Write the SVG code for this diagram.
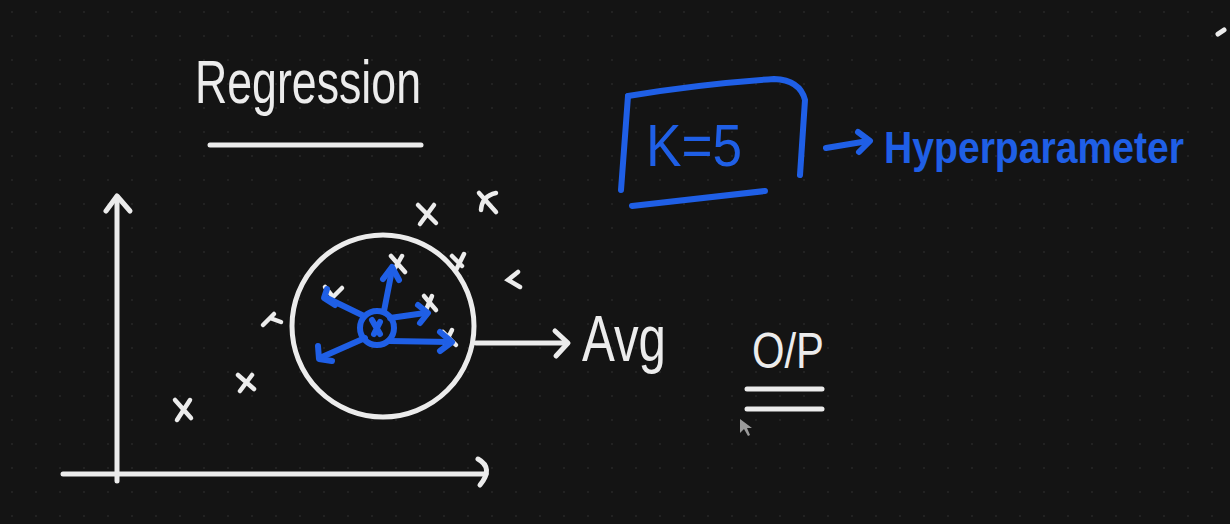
<svg xmlns="http://www.w3.org/2000/svg" width="1230" height="524" viewBox="0 0 1230 524">
<defs>
<pattern id="dots" width="24" height="24" patternUnits="userSpaceOnUse"><circle cx="12" cy="12" r="1" fill="#262626"/></pattern>
<style>
.w{stroke:#ececec;fill:none;stroke-width:5;stroke-linecap:round;stroke-linejoin:round}
.b{stroke:#1f5fe6;fill:none;stroke-width:6;stroke-linecap:round;stroke-linejoin:round}
.x{stroke:#ececec;fill:none;stroke-width:4.5;stroke-linecap:round}
.tw{fill:#ececec;font-family:"Liberation Sans",Arial,sans-serif}
.tb{fill:#1f5fe6;font-family:"Liberation Sans",Arial,sans-serif}
</style>
</defs>
<rect width="1230" height="524" fill="#141414"/>
<rect width="1230" height="524" fill="url(#dots)"/>
<g id="title">
<text class="tw" x="195" y="103" font-size="62" textLength="226" lengthAdjust="spacingAndGlyphs">Regression</text>
<line class="w" x1="210" y1="145" x2="421" y2="145"/>
</g>
<g id="axes">
<line class="w" x1="117" y1="197" x2="117" y2="481"/>
<polyline class="w" points="106,211 117,196 130,211"/>
<line class="w" x1="63" y1="474" x2="486" y2="474"/>
<path class="w" d="M478,459 Q494,468 480,485"/>
</g>
<g id="points">
<path class="x" d="M175,400 L191,418 M190,400 L177,420"/>
<path class="x" d="M238,375 L254,389 M252,375 L240,391"/>
<path class="x" d="M263,325 L274,314 M270,318 L281,322"/>
<path class="x" d="M418,205 L436,223 M434,205 L420,224"/>
<path class="x" d="M479,193 L496,212 M496,193 Q482,196 481,210"/>
<path class="x" d="M452,256 L462,266 M464,254 L456,270"/>
<path class="x" d="M518,272 L508,280 L520,287"/>
<path class="x" d="M325,287 L333,297 L342,288"/>
<path class="x" d="M391,256 L405,272 M402,256 L394,270"/>
<path class="x" d="M424,296 L436,310 M432,296 L426,310"/>
<path class="x" d="M443,332 L456,345 M452,330 L445,344"/>
</g>
<g id="neighborhood">
<circle cx="383" cy="326" r="91" class="w"/>
</g>
<g id="knn-arrows">
<circle cx="377" cy="328" r="17" class="b" stroke-width="5"/>
<path class="b" d="M372,320 L380,334 M380,322 L374,334" stroke-width="3"/>
<line class="b" x1="364" y1="316" x2="327" y2="298" stroke-width="7"/>
<polyline class="b" points="327,289 324,298 335,305" stroke-width="7"/>
<line class="b" x1="384" y1="311" x2="392" y2="270" stroke-width="7"/>
<polyline class="b" points="383,279 392,267 399,280" stroke-width="7"/>
<line class="b" x1="390" y1="318" x2="425" y2="313" stroke-width="7"/>
<polyline class="b" points="418,305 428,313 420,323" stroke-width="7"/>
<line class="b" x1="389" y1="341" x2="450" y2="342" stroke-width="7"/>
<polyline class="b" points="440,332 452,342 440,351" stroke-width="7"/>
<line class="b" x1="365" y1="338" x2="322" y2="357" stroke-width="7"/>
<polyline class="b" points="318,346 319,359 332,361" stroke-width="7"/>
</g>
<g id="connectors">
<line class="w" x1="476" y1="343" x2="566" y2="343"/>
<polyline class="w" points="555,331 568,343 556,356"/>
<line class="b" x1="826" y1="148" x2="868" y2="141"/>
<polyline class="b" points="858,132 870,141 859,152"/>
</g>
<g id="avg">
<text class="tw" x="582" y="361" font-size="64" textLength="84" lengthAdjust="spacingAndGlyphs">Avg</text>
</g>
<g id="output">
<text class="tw" x="752" y="368" font-size="50" textLength="72" lengthAdjust="spacingAndGlyphs">O/P</text>
<line class="w" x1="747" y1="389" x2="822" y2="389"/>
<line class="w" x1="747" y1="409" x2="822" y2="409"/>
</g>
<g id="cursor">
<polygon points="740,419 740,433 744,429 748,436 750,435 747,428 752,428" fill="#9a9a9a"/>
</g>
<g id="k-box">
<path class="b" d="M628,96 L621,190"/>
<path class="b" d="M628,96 Q700,84 774,79 Q800,80 805,100 L800,175"/>
<path class="b" d="M632,206 L765,191"/>
<text class="tb" x="646" y="166" font-size="60" textLength="96" lengthAdjust="spacingAndGlyphs">K=5</text>
</g>
<g id="hyperparameter">
<text class="tb" x="884" y="163" font-size="44" font-weight="bold" textLength="300" lengthAdjust="spacingAndGlyphs">Hyperparameter</text>
</g>
<path class="w" d="M1218,34 L1224,30" stroke-width="3"/>
</svg>
